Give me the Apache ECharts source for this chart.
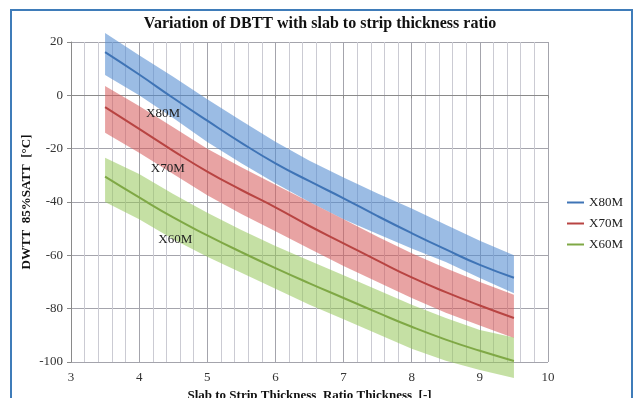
<!DOCTYPE html>
<html>
	<head>
		<meta charset="utf-8">
		<title>Variation of DBTT with slab to strip thickness ratio</title>
		<script src="https://cdn.jsdelivr.net/npm/echarts@6/dist/echarts.min.js"></script>
		<style>
			html, body { margin: 0; background: #fff; }
			#main { width: 640px; height: 398px; }
		</style>
	</head>
	<body>
		<div id="main"></div>
		<script type="text/javascript">
			// slab to strip thickness ratio
			var ratio = [3.5, 4, 4.5, 5, 5.5, 6, 6.5, 7, 7.5, 8, 8.5, 9, 9.5];

			// mean curves, DWTT 85% SATT in °C
			var x80 = [16.2, 7.8, -1, -9.5, -17.8, -25.5, -32.2, -38.6, -45.3, -51.7, -57.8, -63.6, -68.4];
			var x70 = [-4.4, -12.6, -20.8, -28.6, -35.5, -42, -49, -55.5, -62, -68.3, -73.8, -78.8, -83.5];
			var x60 = [-30.5, -38.3, -45.8, -52.5, -58.8, -64.8, -70.5, -76, -81.5, -86.8, -91.6, -95.8, -99.6];

			// scatter bands (upper / lower edge)
			var x80Hi = [23.4, 15, 7, -1.5, -9.5, -17.4, -24.5, -30.8, -36.8, -42.4, -48.5, -54.5, -60];
			var x80Lo = [7.6, 0, -8.5, -17.5, -25.5, -33, -40, -46.5, -52, -57.4, -62.5, -68.5, -74.2];
			var x70Hi = [3.5, -4, -12, -20, -27, -33.5, -40, -46.5, -53, -59.2, -64.8, -70, -74.8];
			var x70Lo = [-14, -21.5, -29.5, -37.5, -44.5, -51, -57.5, -64, -70, -76, -81.5, -86.3, -91];
			var x60Hi = [-23.4, -29.5, -37, -44, -50.5, -56.5, -62, -67.5, -73, -78.5, -83.5, -88, -90.8];
			var x60Lo = [-40, -46.5, -54, -60.5, -66.5, -72.5, -78.5, -84, -89.5, -95, -99.5, -103, -106];

			var grades = ['X80M', 'X70M', 'X60M'];
			// where the grade names sit inside the plot
			var tagX = [4.35, 4.42, 4.53];
			var tagY = [-7, -27.6, -54];

			var serif = '"Liberation Serif", "DejaVu Serif", serif';

			function pairs(ys) {
				return ratio.map(function(x, i) { return [x, ys[i]]; });
			}

			function band(name, hi, lo, fill) {
				return {
					name: name,
					type: 'custom',
					silent: true,
					clip: false,
					z: 1,
					data: ratio.map(function(x, i) { return [x, lo[i], hi[i]]; }),
					encode: { x: 0, y: [1, 2] },
					renderItem: function(params, api) {
						if (params.dataIndex !== 0) return;
						var pts = [];
						for (var i = 0; i < ratio.length; i++) {
							pts.push(api.coord([ratio[i], hi[i]]));
						}
						for (var j = ratio.length - 1; j >= 0; j--) {
							pts.push(api.coord([ratio[j], lo[j]]));
						}
						return {
							type: 'polygon',
							shape: { points: pts },
							style: { fill: fill }
						};
					}
				};
			}

			function curve(k, ys, color) {
				return {
					name: grades[k],
					type: 'line',
					smooth: true,
					symbol: 'none',
					z: 3,
					lineStyle: { color: color, width: 2 },
					itemStyle: { color: color },
					data: pairs(ys),
					markPoint: {
						symbol: 'circle',
						symbolSize: 1,
						itemStyle: { color: 'rgba(0,0,0,0)' },
						label: {
							show: true,
							position: 'inside',
							formatter: '{b}',
							fontFamily: serif,
							fontSize: 13,
							color: '#222'
						},
						data: [{ name: grades[k], coord: [tagX[k], tagY[k]] }]
					}
				};
			}

			var chart = echarts.init(document.getElementById('main'));
			chart.setOption({
				animation: false,
				backgroundColor: '#fff',
				title: {
					text: 'Variation of DBTT with slab to strip thickness ratio',
					left: 'center',
					top: 11,
					textStyle: { fontFamily: serif, fontWeight: 'bold', fontSize: 16, color: '#111' }
				},
				legend: {
					orient: 'vertical',
					left: 567,
					top: 195,
					padding: 0,
					icon: 'rect',
					itemWidth: 17,
					itemHeight: 2,
					itemGap: 6,
					data: grades,
					textStyle: { fontFamily: serif, fontSize: 13, color: '#222', lineHeight: 15 }
				},
				grid: { left: 71, right: 92, top: 42, bottom: 36, containLabel: false, outerBoundsMode: 'none' },
				xAxis: {
					type: 'value',
					min: 3,
					max: 10,
					interval: 1,
					name: 'Slab to Strip Thickness  Ratio Thickness  [-]',
					nameLocation: 'middle',
					nameGap: 27,
					nameTextStyle: { fontFamily: serif, fontWeight: 'bold', fontSize: 13, color: '#111' },
					axisLine: { lineStyle: { color: '#8a8a8a' } },
					axisTick: { show: true, length: 3, lineStyle: { color: '#8a8a8a' } },
					axisLabel: { fontFamily: serif, fontSize: 13, color: '#333', margin: 9 },
					splitLine: { show: true, lineStyle: { color: '#a4a4ac', width: 1 } },
					minorTick: { show: true, splitNumber: 5, length: 0 },
					minorSplitLine: { show: true, lineStyle: { color: '#cbcbd3', width: 1 } }
				},
				yAxis: {
					type: 'value',
					min: -100,
					max: 20,
					interval: 20,
					name: 'DWTT  85%SATT  [°C]',
					nameLocation: 'middle',
					nameGap: 38,
					nameMoveOverlap: false,
					nameTextStyle: { fontFamily: serif, fontWeight: 'bold', fontSize: 13, color: '#111' },
					axisLine: { show: true, lineStyle: { color: '#8a8a8a' } },
					axisTick: { show: true, length: 4, lineStyle: { color: '#8a8a8a' } },
					axisLabel: { fontFamily: serif, fontSize: 13, color: '#333', margin: 8 },
					splitLine: { show: true, lineStyle: { color: '#a4a4ac', width: 1 } }
				},
				graphic: [{
					type: 'rect',
					silent: true,
					z: 100,
					shape: { x: 11, y: 10, width: 621, height: 400 },
					style: { fill: 'none', stroke: '#3f7cb9', lineWidth: 2 }
				}],
				series: [
					band('x80 band', x80Hi, x80Lo, 'rgba(82,140,208,0.58)'),
					band('x70 band', x70Hi, x70Lo, 'rgba(214,88,88,0.55)'),
					band('x60 band', x60Hi, x60Lo, 'rgba(150,198,90,0.55)'),
					curve(0, x80, '#3f74b6'),
					curve(1, x70, '#b84442'),
					curve(2, x60, '#7fa845')
				]
			});
		</script>
	</body>
</html>
